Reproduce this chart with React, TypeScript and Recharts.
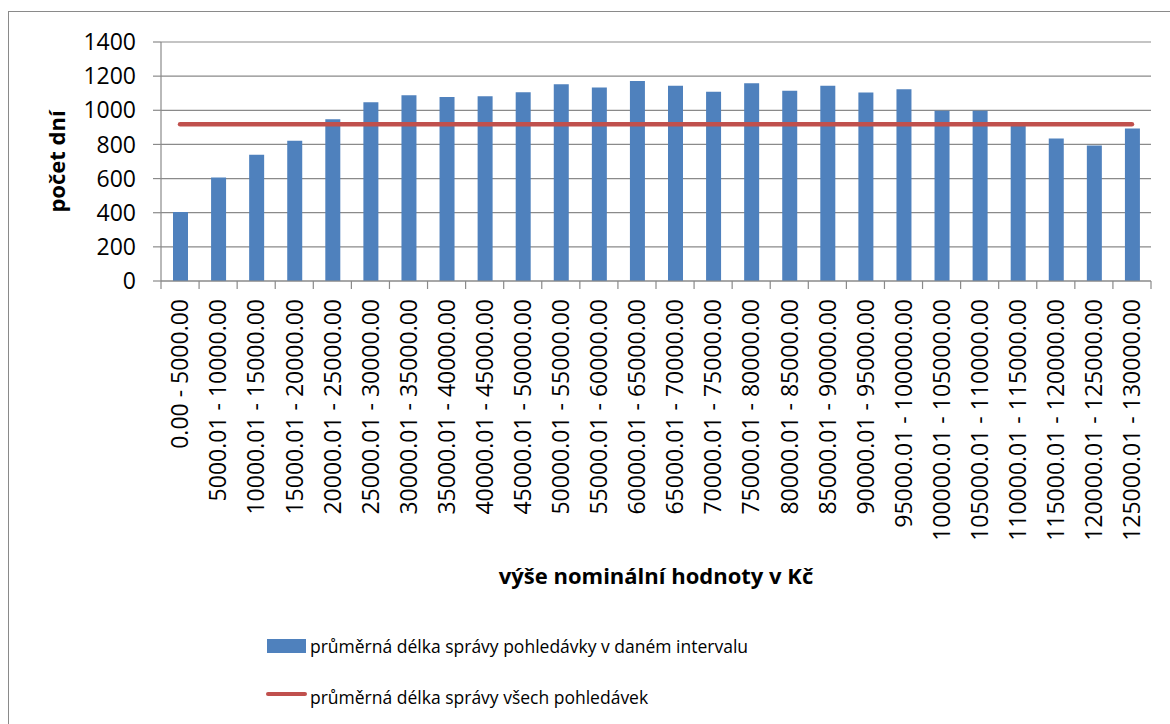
import React from 'react';
import { ComposedChart, Bar, Line, XAxis, YAxis, CartesianGrid, Legend } from 'recharts';

const CATEGORIES = [
  '0.00 - 5000.00',
  '5000.01 - 10000.00',
  '10000.01 - 15000.00',
  '15000.01 - 20000.00',
  '20000.01 - 25000.00',
  '25000.01 - 30000.00',
  '30000.01 - 35000.00',
  '35000.01 - 40000.00',
  '40000.01 - 45000.00',
  '45000.01 - 50000.00',
  '50000.01 - 55000.00',
  '55000.01 - 60000.00',
  '60000.01 - 65000.00',
  '65000.01 - 70000.00',
  '70000.01 - 75000.00',
  '75000.01 - 80000.00',
  '80000.01 - 85000.00',
  '85000.01 - 90000.00',
  '90000.01 - 95000.00',
  '95000.01 - 100000.00',
  '100000.01 - 105000.00',
  '105000.01 - 110000.00',
  '110000.01 - 115000.00',
  '115000.01 - 120000.00',
  '120000.01 - 125000.00',
  '125000.01 - 130000.00',
];

const INTERVAL_AVERAGE = [
  404, 607, 740, 822, 947, 1047, 1088, 1078, 1082, 1105, 1152, 1133, 1172,
  1144, 1109, 1158, 1115, 1144, 1104, 1123, 998, 998, 915, 834, 793, 894,
];

const OVERALL_AVERAGE = 918;

const Y_TICKS = [0, 200, 400, 600, 800, 1000, 1200, 1400];

const SERIES_BAR = 'průměrná délka správy pohledávky v daném intervalu';
const SERIES_LINE = 'průměrná délka správy všech pohledávek';
const X_TITLE = 'výše nominální hodnoty v Kč';
const Y_TITLE = 'počet dní';

const data = CATEGORIES.map((c, i) => ({
  name: c,
  interval: INTERVAL_AVERAGE[i],
  overall: OVERALL_AVERAGE,
}));

const FONT = '"Open Sans", "Noto Sans", sans-serif';
const GRID = '#8a8a8a';
const BLUE = '#4F81BD';
const RED = '#C0504D';
const X_TICK_SIZE = 8;
const X_TICK_MARGIN = 10;

const XTick = (props: any) => {
  const { x, y, payload, index, width } = props;
  const half = payload && typeof payload.offset === 'number' && payload.offset > 0
    ? payload.offset
    : width / CATEGORIES.length / 2;
  const axisY = y - X_TICK_SIZE - X_TICK_MARGIN;
  return (
    <g>
      <line x1={x - half} x2={x - half} y1={axisY} y2={axisY + X_TICK_SIZE} stroke={GRID} strokeWidth={1.2} />
      {index === CATEGORIES.length - 1 && (
        <line x1={x + half} x2={x + half} y1={axisY} y2={axisY + X_TICK_SIZE} stroke={GRID} strokeWidth={1.2} />
      )}
      <text
        x={x}
        y={y}
        dy="0.36em"
        transform={`rotate(-90, ${x}, ${y})`}
        textAnchor="end"
        fontFamily={FONT}
        fontSize={23}
        fill="#000"
      >
        {payload.value}
      </text>
    </g>
  );
};

const YTitle = (props: any) => {
  const vb = props.viewBox || {};
  const cy = vb.y + vb.height / 2;
  const x = 65;
  return (
    <text
      x={x}
      y={cy}
      transform={`rotate(-90, ${x}, ${cy})`}
      textAnchor="middle"
      fontFamily={FONT}
      fontWeight="bold"
      fontSize={22}
      fill="#000"
    >
      {Y_TITLE}
    </text>
  );
};

const XTitle = (props: any) => {
  const vb = props.viewBox || {};
  const cx = vb.x + vb.width / 2;
  return (
    <text x={cx} y={584} textAnchor="middle" fontFamily={FONT} fontWeight="bold" fontSize={22} fill="#000">
      {X_TITLE}
    </text>
  );
};

const LegendContent = () => (
  <div style={{ position: 'relative', width: 520, height: 90, fontFamily: FONT, fontSize: 17.5, color: '#000' }}>
    <div style={{ position: 'absolute', left: 1, top: 9, width: 39, height: 14, background: BLUE }} />
    <div style={{ position: 'absolute', left: 44, top: 3, lineHeight: '26px', whiteSpace: 'nowrap' }}>{SERIES_BAR}</div>
    <div style={{ position: 'absolute', left: 0, top: 62, width: 41, height: 4, borderRadius: 2, background: RED }} />
    <div style={{ position: 'absolute', left: 44, top: 54, lineHeight: '26px', whiteSpace: 'nowrap' }}>{SERIES_LINE}</div>
  </div>
);

export default function App() {
  return (
    <div style={{ position: 'absolute', left: 0, top: 0, width: 1170, height: 724, background: '#fff' }}>
      <div
        style={{
          position: 'absolute',
          left: 8,
          top: 11,
          width: 1162,
          height: 713,
          borderLeft: `1.5px solid ${GRID}`,
          borderTop: `1.5px solid ${GRID}`,
          boxSizing: 'border-box',
        }}
      />
      <div style={{ position: 'absolute', left: 0, top: 0 }}>
        <ComposedChart
          width={1170}
          height={724}
          data={data}
          margin={{ top: 42, right: 19, bottom: 143, left: 101 }}
        >
          <CartesianGrid vertical={false} stroke={GRID} strokeWidth={1.2} />
          <XAxis
            dataKey="name"
            interval={0}
            height={300}
            tickLine={false}
            tickSize={X_TICK_SIZE}
            tickMargin={X_TICK_MARGIN}
            axisLine={{ stroke: GRID, strokeWidth: 1.2 }}
            tick={<XTick />}
            label={{ content: <XTitle /> } as any}
          />
          <YAxis
            width={60}
            domain={[0, 1400]}
            ticks={Y_TICKS}
            interval={0}
            tickSize={8}
            tickMargin={17}
            tickLine={{ stroke: GRID, strokeWidth: 1.2 }}
            axisLine={{ stroke: GRID, strokeWidth: 1.2 }}
            tick={{ fontFamily: FONT, fontSize: 23, fill: '#000' }}
            label={{ content: <YTitle /> } as any}
          />
          <Bar dataKey="interval" name={SERIES_BAR} fill={BLUE} barSize={15} isAnimationActive={false} />
          <Line
            type="linear"
            dataKey="overall"
            name={SERIES_LINE}
            stroke={RED}
            strokeWidth={4.5}
            strokeLinecap="round"
            dot={false}
            activeDot={false}
            isAnimationActive={false}
          />
          <Legend
            layout="horizontal"
            verticalAlign="middle"
            align="center"
            content={<LegendContent />}
            wrapperStyle={{ position: 'absolute', left: 266, top: 630, width: 520, height: 90 }}
          />
        </ComposedChart>
      </div>
    </div>
  );
}
